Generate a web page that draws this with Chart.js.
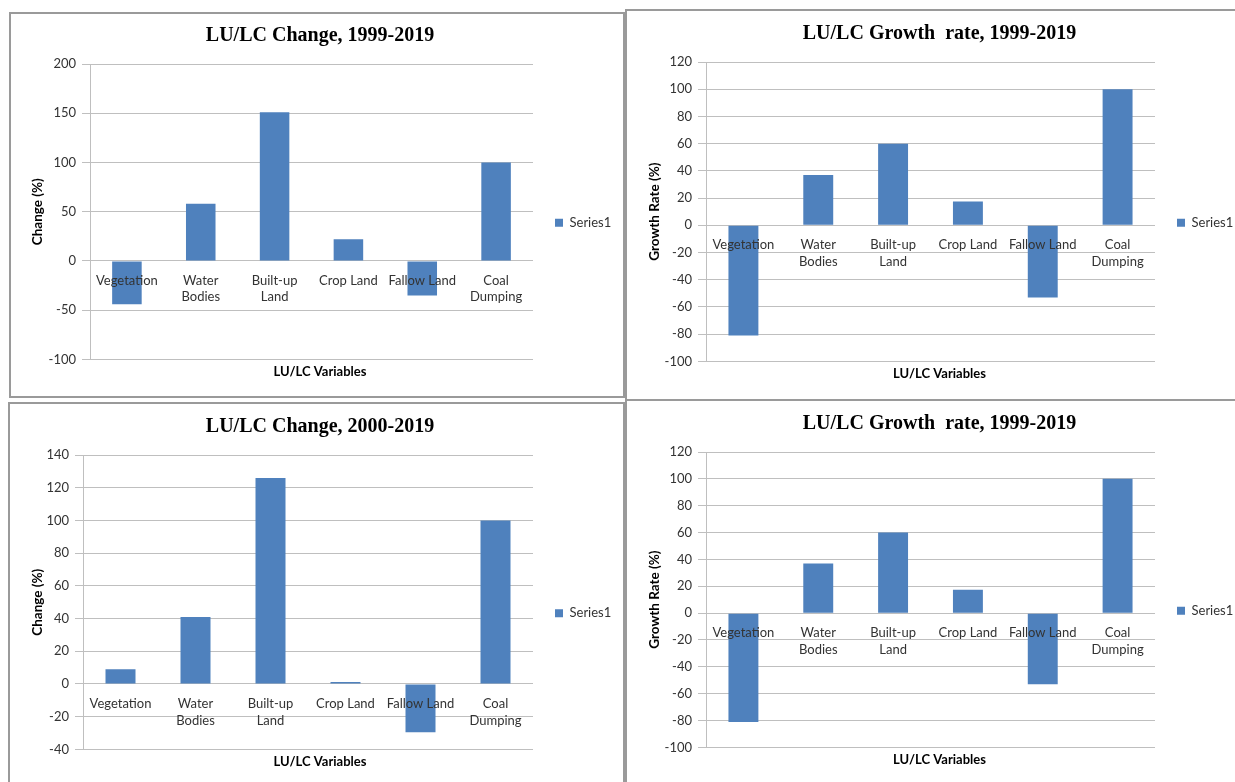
<!DOCTYPE html>
<html>
<head>
<meta charset="utf-8">
<title>LU/LC charts</title>
<script src="https://cdn.jsdelivr.net/npm/chart.js@4.4.1/dist/chart.umd.min.js"></script>
<style>
  body { margin: 0; background: #fff; }
  .frame { position: absolute; box-sizing: border-box; border: 2px solid #9a9a9a; }
  .box { position: absolute; }
</style>
</head>
<body>
<div class="frame" style="left:9px;top:12px;width:616px;height:386px"></div>
<div class="frame" style="left:625px;top:9px;width:620px;height:392px"></div>
<div class="frame" style="left:8px;top:402px;width:617px;height:400px"></div>
<div class="frame" style="left:625px;top:399px;width:620px;height:400px"></div>

<div class="box" style="left:11px;top:14px;width:612px;height:382px"><canvas id="c1"></canvas></div>
<div class="box" style="left:628px;top:12px;width:607px;height:387px"><canvas id="c2"></canvas></div>
<div class="box" style="left:11px;top:405px;width:612px;height:377px"><canvas id="c3"></canvas></div>
<div class="box" style="left:628px;top:402px;width:607px;height:380px"><canvas id="c4"></canvas></div>

<script>
// categories (multi-line ones wrapped the way Excel did)
const categories = ['Vegetation', ['Water', 'Bodies'], ['Built-up', 'Land'], 'Crop Land', 'Fallow Land', ['Coal', 'Dumping']];
const seriesName = 'Series1';
const xTitle = 'LU/LC Variables';

// values
const change1999 = [-44, 58, 151, 22, -35, 100];
const growth1999 = [-81, 37, 60, 17.5, -53, 100];
const change2000 = [9, 41, 126, 1.2, -29.5, 100];
const growth1999b = [-81, 37, 60, 17.5, -53, 100];

// y tick labels
const changeTicks1999 = [-100, -50, 0, 50, 100, 150, 200];
const growthTicks = [-100, -80, -60, -40, -20, 0, 20, 40, 60, 80, 100, 120];
const changeTicks2000 = [-40, -20, 0, 20, 40, 60, 80, 100, 120, 140];

Chart.defaults.font.family = 'Lato';
Chart.defaults.color = '#333';

function makeChart(id, title, yTitle, values, ticks, box) {
  return new Chart(document.getElementById(id), {
    type: 'bar',
    data: {
      labels: categories,
      datasets: [{
        label: seriesName,
        data: values,
        backgroundColor: '#4F81BD',
        borderWidth: 0,
        barPercentage: 0.4,
        categoryPercentage: 1
      }]
    },
    options: {
      responsive: true,
      maintainAspectRatio: false,
      animation: false,
      layout: { padding: { left: 16, right: box.right, top: 0, bottom: box.bottom } },
      plugins: {
        title: {
          display: true,
          text: title,
          color: '#000',
          font: { family: 'Liberation Serif', size: 20, weight: 'bold' },
          padding: { top: 9.5, bottom: 16.5 }
        },
        subtitle: {
          display: true,
          position: 'bottom',
          text: xTitle,
          color: '#000',
          font: { size: 13, weight: 'bold' },
          padding: { top: 4.2, bottom: 4 }
        },
        legend: {
          position: 'right',
          fullSize: false,
          maxWidth: 80,
          title: { display: true, text: '', font: { size: 1 }, padding: { top: 0, bottom: 21 } },
          labels: { boxWidth: 8, boxHeight: 8, padding: 22, font: { size: 13 }, color: '#333' }
        },
        tooltip: { enabled: false }
      },
      scales: {
        x: {
          position: { y: 0 },
          grid: { display: false, drawTicks: false },
          border: { display: false },
          // labels sit on the zero line and are painted over the bars
          ticks: { z: 1, padding: 11, maxRotation: 0, autoSkip: false, font: { size: 13, lineHeight: 1.3 } },
          afterFit: s => { s.height = 0; }
        },
        y: {
          min: ticks[0],
          max: ticks[ticks.length - 1],
          ticks: { stepSize: ticks[1] - ticks[0], padding: 6, font: { size: 13 } },
          grid: { color: '#BFBFBF', tickLength: 8 },
          border: { color: '#BFBFBF' },
          title: { display: true, text: yTitle, color: '#000', font: { size: 13.5, weight: 'bold' }, padding: { top: 3, bottom: 4 } },
          afterFit: s => { s.width = box.yWidth; }
        }
      }
    }
  });
}

makeChart('c1', 'LU/LC Change, 1999-2019', 'Change (%)', change1999, changeTicks1999, { yWidth: 63, right: 10, bottom: 12.8 });
makeChart('c2', 'LU/LC Growth  rate, 1999-2019', 'Growth Rate (%)', growth1999, growthTicks, { yWidth: 62, right: 0, bottom: 13.8 });
makeChart('c3', 'LU/LC Change, 2000-2019', 'Change (%)', change2000, changeTicks2000, { yWidth: 56, right: 10, bottom: 8.8 });
makeChart('c4', 'LU/LC Growth  rate, 1999-2019', 'Growth Rate (%)', growth1999b, growthTicks, { yWidth: 62, right: 0, bottom: 10.8 });
</script>
</body>
</html>
